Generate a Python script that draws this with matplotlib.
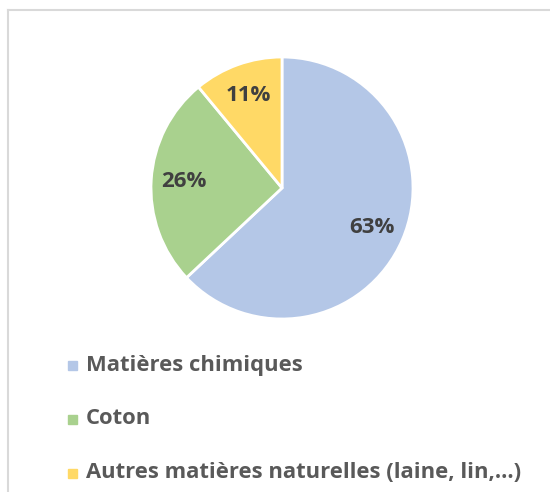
import matplotlib
matplotlib.use("Agg")
import matplotlib.pyplot as plt
from matplotlib.patches import Rectangle
from matplotlib.lines import Line2D

categories = ["Matières chimiques", "Coton", "Autres matières naturelles (laine, lin,…)"]
values = [63, 26, 11]
colors = ["#B4C7E7", "#A9D18E", "#FFD966"]

plt.rcParams['font.family'] = ['Open Sans', 'DejaVu Sans']

W, H = 550, 492
fig = plt.figure(figsize=(W / 100, H / 100), dpi=100)
fig.patch.set_facecolor("white")

# border (top and left visible)
fig.add_artist(Line2D([8 / W, 8 / W], [0, 1 - 10 / H], transform=fig.transFigure,
                      color="#D9D9D9", lw=1.5))
fig.add_artist(Line2D([8 / W, 1], [1 - 10 / H, 1 - 10 / H], transform=fig.transFigure,
                      color="#D9D9D9", lw=1.5))

cx, cy, r = 282, 188, 131
ax = fig.add_axes([(cx - r) / W, (H - cy - r) / H, 2 * r / W, 2 * r / H])
wedges, texts, autotexts = ax.pie(values, colors=colors, startangle=90, counterclock=False,
                                  autopct='%d%%', pctdistance=0.75, radius=1,
                                  wedgeprops=dict(edgecolor="white", linewidth=2),
                                  textprops=dict(fontsize=16, fontweight='bold', color="#404040"))
ax.set_xlim(-1, 1)
ax.set_ylim(-1, 1)
ax.set_aspect('equal')
ax.axis('off')

ys = [365, 419, 473]
for cat, col, y in zip(categories, colors, ys):
    fig.add_artist(Rectangle(((68) / W, (H - y - 4.5) / H), 9 / W, 9 / H,
                             transform=fig.transFigure, color=col))
    fig.text(86 / W, (H - y) / H, cat, fontsize=15.8, fontweight='bold', color="#595959",
             va='center', ha='left')

fig.savefig("out.png", dpi=100)
